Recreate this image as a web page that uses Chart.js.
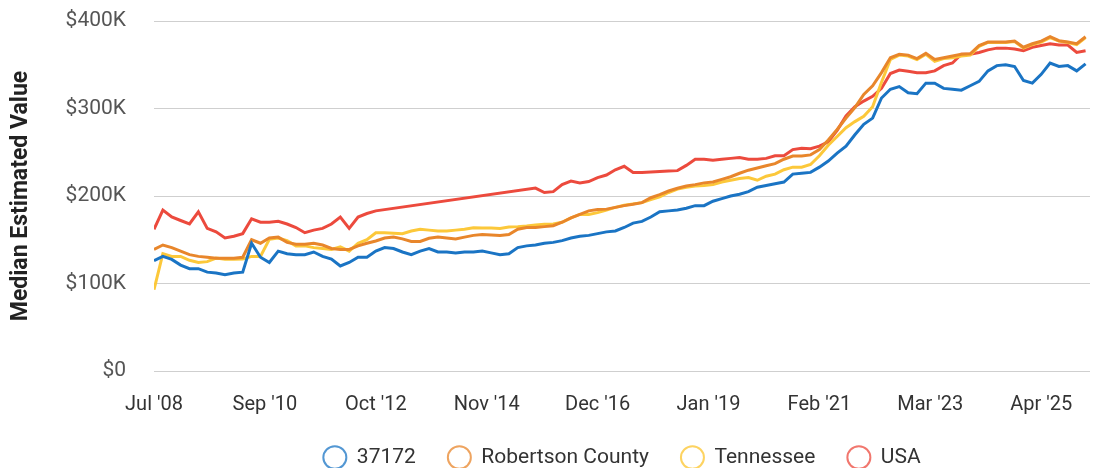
<!DOCTYPE html>
<html>
<head>
<meta charset="utf-8">
<title>Median Estimated Value</title>
<script src="https://cdn.jsdelivr.net/npm/chart.js@4.4.1/dist/chart.umd.min.js"></script>
<style>
  html, body { margin: 0; padding: 0; background: #fff; }
  #wrap { width: 1097px; height: 468px; position: relative; }
</style>
</head>
<body>
<div id="wrap"><canvas id="valueChart"></canvas></div>
<script>
// one sample every 2 months starting Jul '08, values in $K
const stepMonths = 2;
const tickEvery = 25;
const tickLabels = ["Jul '08", "Sep '10", "Oct '12", "Nov '14", "Dec '16", "Jan '19", "Feb '21", "Mar '23", "Apr '25"];

const zip37172 = [
  126, 131, 127.5, 121, 117, 117, 113, 112, 110, 112,
  113, 146, 130, 124, 137, 134, 133, 133, 136, 131,
  128, 120, 124, 130, 130, 137, 141, 140, 136, 133,
  137, 140, 136, 136, 135, 136, 136, 137, 135, 133,
  134, 141, 143, 144, 146, 147, 149, 152, 154, 155,
  157, 159, 160, 164, 169, 171, 176, 182, 183, 184,
  186, 189, 189, 194, 197, 200, 202, 205, 210, 212,
  214, 216, 225, 226, 227, 233, 240, 249, 257, 270,
  282, 289, 312, 322, 325, 318, 317, 329, 329, 323,
  322, 321, 326, 331, 343, 349, 350, 348, 332, 329,
  339, 352, 348, 349, 343, 351
];
const robertsonCounty = [
  139, 144, 141, 137, 133, 131, 130, 129, 129, 129,
  130, 150, 146, 152, 153, 147, 145, 145, 146, 144,
  140, 139, 139, 143, 146, 148.6, 152, 153, 151, 148,
  148, 151.7, 153, 152, 151, 153, 155, 156, 155.5, 155,
  156, 162, 164, 164, 165, 166, 170, 175, 179, 183,
  184.5, 185, 187, 189, 190.5, 192.4, 198, 201.5, 205.7, 208.8,
  211.5, 213, 215, 216, 219, 222, 226, 229.5, 232, 234.5,
  237, 242, 245.7, 245.7, 247, 253, 264, 276, 289, 301,
  316, 326, 341, 358, 362, 361, 357, 363, 356, 358,
  360, 362, 362.5, 372, 376, 376, 376, 377, 370, 374,
  377, 382, 377.5, 376, 374, 382
];
const tennessee = [
  93, 134, 131, 131, 126.5, 124, 125, 129, 127.6, 127.6,
  128, 131, 131, 150.5, 152, 149, 143, 143, 141, 140,
  139, 142, 137, 146, 150, 158, 158, 157.5, 157, 160,
  162, 161, 160, 160, 161, 162, 163.8, 163.5, 163.4, 163,
  164.6, 165, 165.7, 167, 167.6, 168, 170, 175, 179, 179,
  181, 184, 187, 189.5, 191, 192.4, 196, 199, 204, 208,
  210, 211.5, 212, 213, 216, 218, 220, 221, 218, 222.6,
  225, 230, 233, 233, 236, 246, 258, 268, 278, 285,
  291, 302, 330, 356, 361, 360, 356, 362, 354, 357,
  358, 360, 361, 371, 375.5, 375.5, 375.5, 376.5, 369, 373,
  376, 381, 377, 375.5, 373, 381
];
const usa = [
  162, 184, 176, 172, 168, 182, 163, 159, 152, 154,
  157, 174, 170, 170, 171, 168, 164, 158, 161, 163,
  168, 176, 163, 176, 180, 183, null, null, null, null,
  null, null, null, null, null, null, null, null, null, null,
  null, null, null, 209, 204, 205, 213, 217, 215, 216.5,
  221, 224, 230, 234, 227, 227, 227.5, 228, 228.5, 229,
  235, 242, 242, 241, 242, 243, 244, 242, 242, 243,
  246, 246, 253, 254.5, 254, 257, 262, 275, 291.5, 302,
  308.5, 314, 323, 340, 344, 342.5, 341, 341, 343, 349,
  352, 362, 362, 364, 367, 369, 369, 368, 366, 370,
  372, 374, 372.5, 372.5, 364, 366
];

const seriesNames = ['37172', 'Robertson County', 'Tennessee', 'USA'];
const seriesColors = ['#1a74c4', '#e8862b', '#fcc83a', '#ec4a3d'];
const legendColors = ['rgba(26,116,196,0.75)', 'rgba(232,134,43,0.75)', 'rgba(252,200,58,0.8)', 'rgba(236,74,61,0.75)'];

const toPoints = (vals) => vals.map((v, i) => ({ x: i * stepMonths, y: v }));

const datasets = [zip37172, robertsonCounty, tennessee, usa].map((vals, i) => ({
  label: seriesNames[i],
  data: toPoints(vals),
  borderColor: seriesColors[i],
  backgroundColor: seriesColors[i],
  borderWidth: 3,
  pointRadius: 0,
  pointHoverRadius: 0,
  tension: 0,
  spanGaps: true,
  fill: false
}));

Chart.defaults.font.family = 'Roboto, "Open Sans", sans-serif';

new Chart(document.getElementById('valueChart'), {
  type: 'line',
  data: { datasets },
  options: {
    responsive: true,
    maintainAspectRatio: false,
    animation: false,
    layout: { padding: { top: 21, right: 7, left: 0, bottom: -10 } },
    plugins: {
      tooltip: { enabled: false },
      legend: {
        position: 'bottom',
        fullSize: false,
        labels: {
          usePointStyle: true,
          pointStyle: 'circle',
          pointStyleWidth: 23,
          boxHeight: 16,
          padding: 32,
          color: '#333',
          font: { size: 21 },
          generateLabels: (chart) => chart.data.datasets.map((ds, i) => ({
            text: ds.label,
            fillStyle: 'rgba(255,255,255,0)',
            strokeStyle: legendColors[i],
            lineWidth: 2,
            pointStyle: 'circle',
            hidden: false,
            datasetIndex: i,
            fontColor: '#333'
          }))
        }
      }
    },
    scales: {
      x: {
        type: 'linear',
        min: 0,
        max: 211,
        grid: { display: false, drawTicks: false },
        border: { display: false },
        afterBuildTicks: (scale) => {
          scale.ticks = tickLabels.map((_, i) => ({ value: i * tickEvery }));
        },
        afterFit: (scale) => {
          scale.height = 44;
          scale.paddingLeft = 0;
          scale.paddingRight = 0;
        },
        ticks: {
          autoSkip: false,
          maxRotation: 0,
          padding: 22,
          color: '#333',
          font: { size: 20 },
          callback: (v) => tickLabels[Math.round(v / tickEvery)] || ''
        }
      },
      y: {
        min: 0,
        max: 400,
        grid: { color: '#cfcfcf', lineWidth: 1, drawTicks: false },
        border: { display: false },
        afterFit: (scale) => {
          scale.width = 154;
          scale.paddingTop = 0;
          scale.paddingBottom = 0;
        },
        ticks: {
          stepSize: 100,
          padding: 28,
          color: '#555',
          font: { size: 21 },
          callback: (v) => v === 0 ? '$0' : '$' + v + 'K'
        },
        title: {
          display: true,
          text: 'Median Estimated Value',
          color: '#222',
          font: { size: 23, weight: 'bold' },
          padding: { top: 7, bottom: 6 }
        }
      }
    }
  }
});
</script>
</body>
</html>
